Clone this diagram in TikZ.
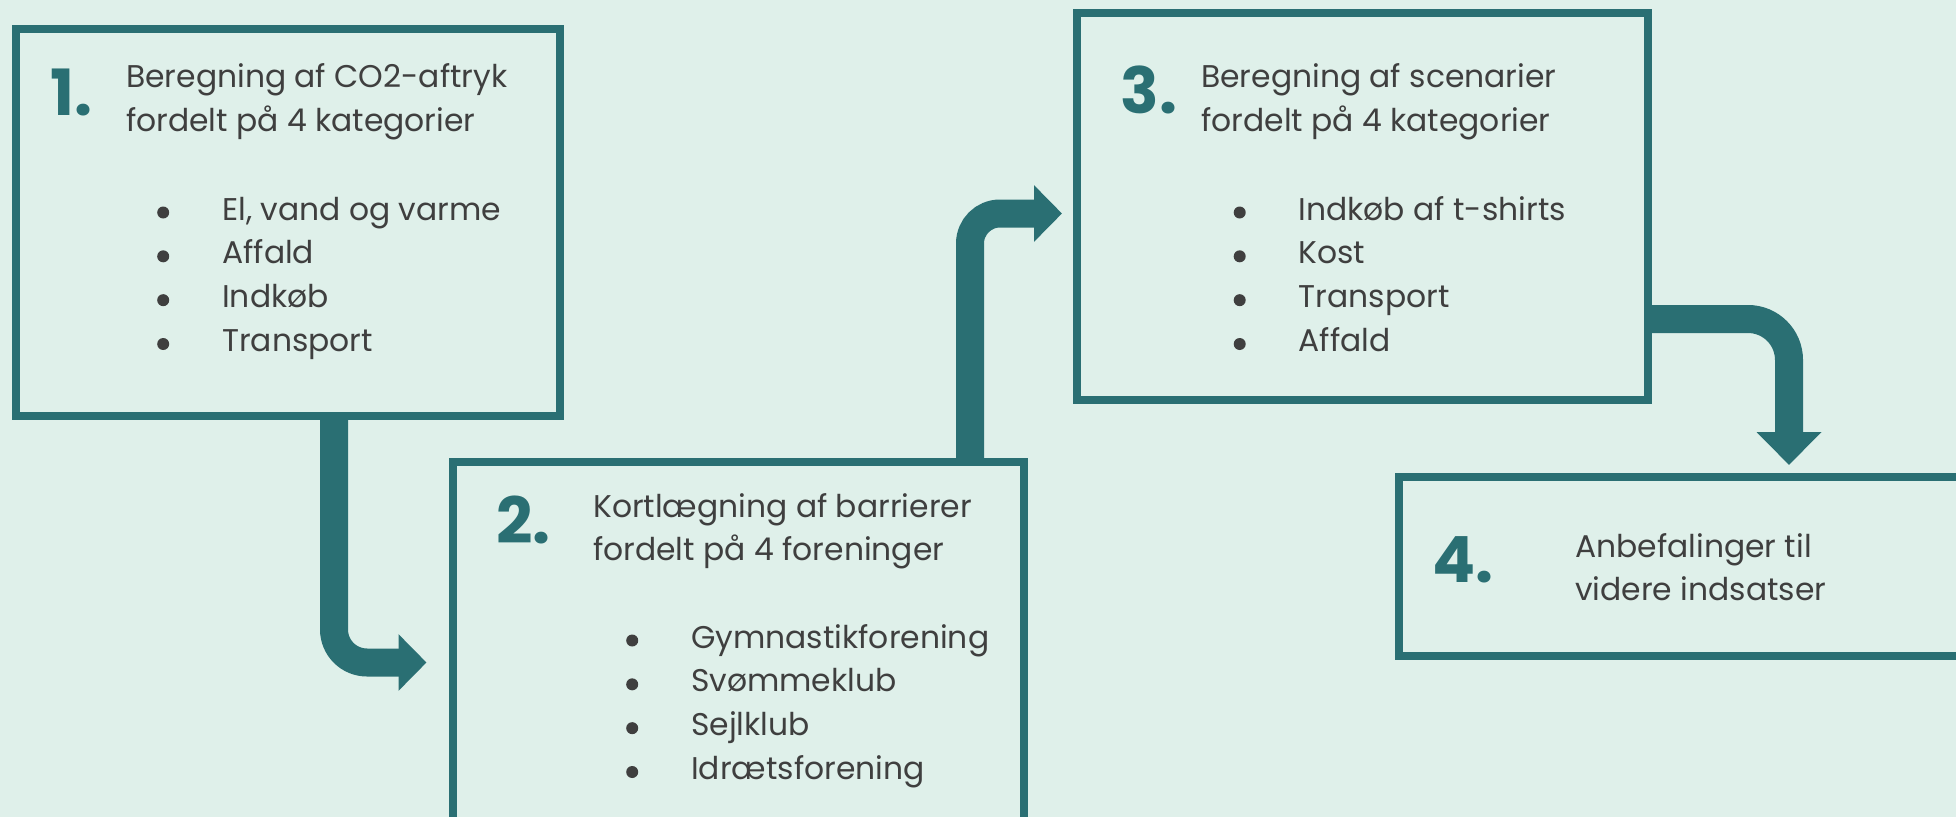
\documentclass[tikz,border=0pt]{standalone}
\usepackage{fontspec}
\setmainfont{Poppins}
\usetikzlibrary{arrows.meta}

\definecolor{bgmint}{HTML}{DFF0EA}
\definecolor{tealdark}{HTML}{2A6F73}
\definecolor{textgray}{HTML}{3F3F3F}

\newcommand{\titlelines}[1]{\begin{tabular}[t]{@{}l@{}}#1\end{tabular}}
\newcommand{\bulletlines}[1]{\begin{tabular}[t]{@{}p{65bp}@{}l@{}}#1\end{tabular}}
\newcommand{\listdot}{\tikz[baseline=0pt,x=1bp,y=1bp]\fill[textgray] (6,7.5) circle (6);}

\tikzset{
    stepbox/.style={draw=tealdark, line width=8bp, rectangle},
    stepnum/.style={anchor=base west, inner sep=0pt, text=tealdark, font=\fontsize{64}{64}\selectfont\bfseries},
    steptext/.style={anchor=base west, inner sep=0pt, text=textgray, font=\fontsize{31.5}{44}\selectfont},
    flow/.style={draw=tealdark, line width=28bp}
}

\begin{document}
\begin{tikzpicture}[x=1bp, y=-1bp]
    \fill[bgmint] (0,0) rectangle (1956,817);
    \clip (0,0) rectangle (1956,817);

    % Step 1
    \node[stepbox, minimum width=543.5bp, minimum height=387bp] (box1) at (288.25,222.5) {};
    \node[stepnum] (num1) at (50,115) {1.};
    \node[steptext] (title1) at (126,88) {\titlelines{Beregning af CO2-aftryk\\fordelt på 4 kategorier}};
    \node[steptext] (list1) at (157,220) {\bulletlines{\listdot&El, vand og varme\\\listdot&Affald\\\listdot&Indkøb\\\listdot&Transport}};

    % Step 2
    \node[stepbox, minimum width=571bp, minimum height=401bp] (box2) at (738,662.5) {};
    \node[stepnum] (num2) at (496,543) {2.};
    \node[steptext] (title2) at (593,517) {\titlelines{Kortlægning af barrierer\\fordelt på 4 foreninger}};
    \node[steptext] (list2) at (626,648) {\bulletlines{\listdot&Gymnastikforening\\\listdot&Svømmeklub\\\listdot&Sejlklub\\\listdot&Idrætsforening}};

    % Step 3
    \node[stepbox, minimum width=571bp, minimum height=387bp] (box3) at (1362,206.5) {};
    \node[stepnum] (num3) at (1120.5,113) {3.};
    \node[steptext] (title3) at (1201,88) {\titlelines{Beregning af scenarier\\fordelt på 4 kategorier}};
    \node[steptext] (list3) at (1233.5,220) {\bulletlines{\listdot&Indkøb af t-shirts\\\listdot&Kost\\\listdot&Transport\\\listdot&Affald}};

    % Step 4
    \node[stepbox, minimum width=601.5bp, minimum height=178.5bp] (box4) at (1699.25,566.25) {};
    \node[stepnum] (num4) at (1432,582) {4.};
    \node[steptext] (title4) at (1575,557) {\titlelines{Anbefalinger til\\videre indsatser}};

    % Arrows
    \draw[flow, rounded corners=33bp, -{Triangle[length=28bp,width=55bp]}]
        ([xshift=45.75bp]box1.south) |- ([xshift=-22bp]box2.west);
    \draw[flow, rounded corners=30bp, -{Triangle[length=28bp,width=55bp]}]
        ([xshift=232bp]box2.north) |- ([xshift=-10.5bp,yshift=-7bp]box3.west);
    \draw[flow, rounded corners=41bp, -{Triangle[length=33bp,width=63bp]}]
        ([yshift=-112.5bp]box3.east) -| ([xshift=89.75bp,yshift=8bp]box4.north);
\end{tikzpicture}
\end{document}
